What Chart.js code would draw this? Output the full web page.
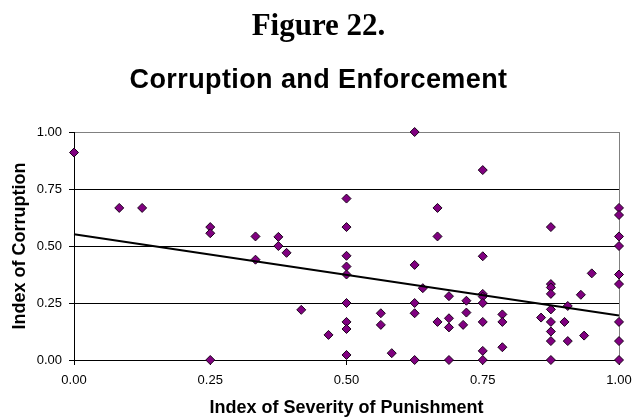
<!DOCTYPE html>
<html>
<head>
<meta charset="utf-8">
<script src="https://cdn.jsdelivr.net/npm/chart.js@4"></script>
<style>
  html, body { margin: 0; padding: 0; background: #fff; }
  canvas { display: block; }
</style>
</head>
<body>
<canvas id="myChart" width="635" height="419"></canvas>
<script>
const figureTitle = 'Figure 22.';
const chartTitle = 'Corruption and Enforcement';
const xAxisTitle = 'Index of Severity of Punishment';
const yAxisTitle = 'Index of Corruption';

const tickValues = [0, 0.25, 0.5, 0.75, 1];
const tickLabels = ['0.00', '0.25', '0.50', '0.75', '1.00'];

// severity of punishment (x) and corruption (y), one pair per country
const severity = [
    0, 0.083, 0.125, 0.25, 0.25, 0.25, 0.333, 0.333, 0.375, 0.375,
    0.39, 0.417, 0.467, 0.5, 0.5, 0.5, 0.5, 0.5, 0.5, 0.5,
    0.5, 0.5, 0.563, 0.563, 0.583, 0.625, 0.625, 0.625, 0.625, 0.625,
    0.64, 0.667, 0.667, 0.667, 0.688, 0.688, 0.688, 0.688, 0.72, 0.72,
    0.714, 0.75, 0.75, 0.75, 0.75, 0.75, 0.75, 0.75, 0.75, 0.786,
    0.786, 0.786, 0.857, 0.875, 0.875, 0.875, 0.875, 0.875, 0.875, 0.875,
    0.875, 0.875, 0.9, 0.906, 0.906, 0.93, 0.936, 0.95, 1, 1,
    1, 1, 1, 1, 1, 1, 1
];
const corruption = [
    0.91, 0.667, 0.667, 0.583, 0.556, 0, 0.542, 0.44, 0.54, 0.5,
    0.47, 0.22, 0.11, 0.708, 0.583, 0.457, 0.41, 0.375, 0.25, 0.167,
    0.136, 0.022, 0.205, 0.154, 0.03, 1.0, 0.417, 0.25, 0.205, 0,
    0.315, 0.667, 0.542, 0.167, 0.28, 0.183, 0.143, 0, 0.26, 0.208,
    0.154, 0.833, 0.455, 0.29, 0.278, 0.25, 0.167, 0.04, 0, 0.2,
    0.167, 0.056, 0.186, 0.583, 0.333, 0.318, 0.29, 0.222, 0.167, 0.125,
    0.083, 0, 0.167, 0.237, 0.083, 0.286, 0.107, 0.38, 0.667, 0.636,
    0.542, 0.5, 0.375, 0.333, 0.167, 0.083, 0
];

// linear trend line, end points
const trendX = [0, 1];
const trendY = [0.552, 0.195];

const points = severity.map((x, i) => ({ x: x, y: corruption[i] }));
const trend = trendX.map((x, i) => ({ x: x, y: trendY[i] }));

const sans = '"Liberation Sans", Arial, Helvetica, sans-serif';

const titles = {
    id: 'figureTitles',
    afterDraw(chart) {
        const ctx = chart.ctx;
        ctx.save();
        ctx.fillStyle = '#000';
        ctx.textAlign = 'center';
        ctx.textBaseline = 'alphabetic';
        ctx.font = 'bold 31px "Liberation Serif", "Times New Roman", serif';
        ctx.fillText(figureTitle, 318.5, 35);
        ctx.font = 'bold 27px ' + sans;
        if ('letterSpacing' in ctx) ctx.letterSpacing = '0.4px';
        ctx.fillText(chartTitle, 318.5, 88);
        ctx.restore();
    }
};

const ctx = document.getElementById('myChart').getContext('2d');
const myChart = new Chart(ctx, {
    type: 'scatter',
    data: {
        datasets: [{
            type: 'scatter',
            data: trend,
            showLine: true,
            borderColor: '#000',
            borderWidth: 2,
            pointRadius: 0,
            fill: false,
            clip: false
        }, {
            data: points,
            pointStyle: 'rectRot',
            pointRadius: 4.5,
            pointBackgroundColor: '#800080',
            pointBorderColor: '#1a001a',
            pointBorderWidth: 1,
            clip: false
        }]
    },
    options: {
        responsive: false,
        animation: false,
        layout: { padding: { top: 132, right: 16, left: 0, bottom: 0 } },
        plugins: {
            legend: { display: false },
            tooltip: { enabled: false }
        },
        scales: {
            x: {
                type: 'linear',
                min: 0,
                max: 1,
                afterFit: function(scale) {
                    scale.height = 59;
                    scale.paddingLeft = 0;
                    scale.paddingRight = 0;
                },
                afterBuildTicks: function(scale) {
                    scale.ticks = tickValues.map(v => ({ value: v }));
                },
                ticks: {
                    color: '#000',
                    font: { family: sans, size: 13 },
                    padding: 8,
                    maxRotation: 0,
                    callback: function(value) {
                        return tickLabels[tickValues.indexOf(value)];
                    }
                },
                grid: {
                    drawTicks: true,
                    tickLength: 5,
                    tickColor: '#000',
                    color: c => c.tick && c.tick.value === 1 ? '#808080' : 'rgba(0,0,0,0)'
                },
                border: { display: true, color: '#000', width: 1 },
                title: {
                    display: true,
                    text: xAxisTitle,
                    color: '#000',
                    font: { family: sans, size: 18, weight: 'bold' },
                    padding: { top: 0, bottom: 0 }
                }
            },
            y: {
                type: 'linear',
                min: 0,
                max: 1,
                afterFit: function(scale) {
                    scale.width = 74;
                    scale.paddingTop = 0;
                    scale.paddingBottom = 0;
                },
                afterBuildTicks: function(scale) {
                    scale.ticks = tickValues.map(v => ({ value: v }));
                },
                ticks: {
                    color: '#000',
                    font: { family: sans, size: 13 },
                    padding: 7,
                    callback: function(value) {
                        return tickLabels[tickValues.indexOf(value)];
                    }
                },
                grid: {
                    drawTicks: true,
                    tickLength: 5,
                    tickColor: '#000',
                    color: c => c.tick && c.tick.value === 1 ? '#808080' : '#000'
                },
                border: { display: true, color: '#000', width: 1 },
                title: {
                    display: true,
                    text: yAxisTitle,
                    color: '#000',
                    font: { family: sans, size: 18, weight: 'bold' },
                    padding: { top: 9, bottom: 0 }
                }
            }
        }
    },
    plugins: [titles]
});
</script>
</body>
</html>
